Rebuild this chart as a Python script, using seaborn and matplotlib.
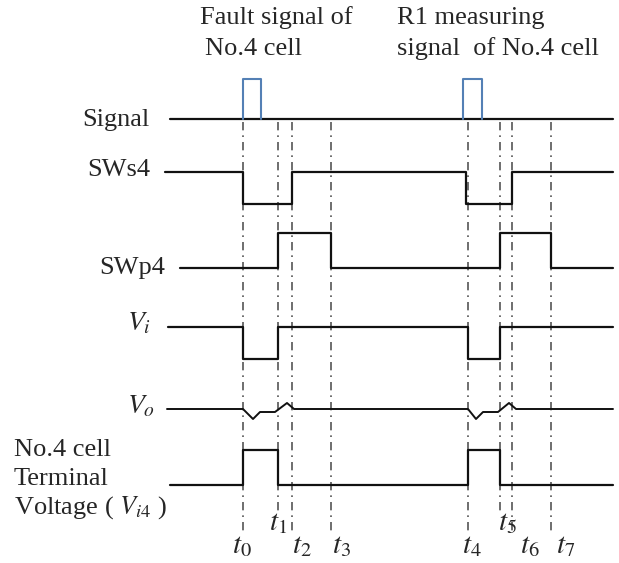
import matplotlib
matplotlib.use("Agg")
import matplotlib.pyplot as plt
import seaborn as sns
import numpy as np
import pandas as pd

sns.set_theme(style="white")
plt.rcParams['font.family'] = ['Liberation Serif', 'DejaVu Serif']
plt.rcParams['mathtext.fontset'] = 'stix'

# ---- data ----
event_names = ["t_0", "t_1", "t_2", "t_3", "t_4", "t_5", "t_6", "t_7"]
event_times = [243, 278, 292, 331, 468, 500, 512, 551]

signal_pulses = [(243, 261), (463, 482)]
sws4_low = [(243, 292), (466, 512)]
swp4_high = [(278, 331), (500, 551)]
vi_low = [(243, 278), (468, 500)]
vi4_high = [(243, 278), (468, 500)]

vo_x = [167, 243, 253, 260, 275, 287, 294, 468, 476, 483, 498, 509, 516, 613]
vo_y = [409, 409, 419, 412, 412, 403, 409, 409, 419, 412, 412, 403, 409, 409]

# layout (in canvas units)
lines_start = {"Signal": 170, "SWs4": 165, "SWp4": 180, "Vi": 168, "Vi4": 170}
line_end = 613
levels = {  # (base, active)
    "Signal": (119, 79),
    "SWs4": (172, 204),
    "SWp4": (268, 233),
    "Vi": (327, 359),
    "Vi4": (485, 450),
}


def step_trace(x0, x1, base, active, intervals):
    xs, ys = [x0], [base]
    for a, b in intervals:
        xs += [a, a, b, b]
        ys += [base, active, active, base]
    xs.append(x1)
    ys.append(base)
    return xs, ys


fig = plt.figure(figsize=(6.19, 5.63), dpi=100)
ax = fig.add_axes([0, 0, 1, 1])
ax.set_xlim(0, 619)
ax.set_ylim(563, 0)
ax.axis("off")

lw = 1.6
blk = "#111111"

# vertical dash-dot guides
for name, t in zip(event_names, event_times):
    bottom = 512 if name in ("t_1", "t_5") else 533
    sns.lineplot(x=[t, t], y=[122, bottom], ax=ax, color="#555555", lw=1.2,
                 linestyle=(0, (5, 3, 1, 3)), estimator=None, sort=False)

# signal line
sns.lineplot(x=[lines_start["Signal"], line_end], y=[levels["Signal"][0]] * 2, ax=ax,
             color=blk, lw=lw, estimator=None, sort=False)
for a, b in signal_pulses:
    base, act = levels["Signal"]
    sns.lineplot(x=[a, a, b, b], y=[base, act, act, base], ax=ax, color="#5480b5",
                 lw=1.5, estimator=None, sort=False)

for key, ints in [("SWs4", sws4_low), ("SWp4", swp4_high), ("Vi", vi_low), ("Vi4", vi4_high)]:
    base, act = levels[key]
    xs, ys = step_trace(lines_start[key], line_end, base, act, ints)
    sns.lineplot(x=xs, y=ys, ax=ax, color=blk, lw=lw, estimator=None, sort=False)

sns.lineplot(x=vo_x, y=vo_y, ax=ax, color=blk, lw=1.4, estimator=None, sort=False)

# labels
fs = 19
ax.text(150, 120, "Signal", fontsize=fs, ha="right", va="center")
ax.text(150, 170, "SWs4", fontsize=fs, ha="right", va="center")
ax.text(165, 268, "SWp4", fontsize=fs, ha="right", va="center")
ax.text(127, 324, "$V_i$", fontsize=fs + 1, ha="left", va="center")
ax.text(127, 407, "$V_o$", fontsize=fs + 1, ha="left", va="center")
ax.text(14, 450, "No.4 cell", fontsize=fs, ha="left", va="center")
ax.text(14, 479, "Terminal", fontsize=fs, ha="left", va="center")
ax.text(14, 508, "Voltage ( $V_{i4}$ )", fontsize=fs, ha="left", va="center")

ax.text(200, 18, "Fault signal of", fontsize=fs, ha="left", va="center")
ax.text(205, 49, "No.4 cell", fontsize=fs, ha="left", va="center")
ax.text(397, 18, "R1 measuring", fontsize=fs, ha="left", va="center")
ax.text(397, 49, "signal  of No.4 cell", fontsize=fs, ha="left", va="center")

# time labels
label_pos = {
    "t_0": (242, 546), "t_1": (278, 523), "t_2": (302, 546), "t_3": (341, 546),
    "t_4": (472, 546), "t_5": (507, 523), "t_6": (530, 546), "t_7": (566, 546),
}
for name in event_names:
    x, y = label_pos[name]
    ax.text(x, y, f"${name}$", fontsize=21, ha="center", va="center")

fig.savefig("out.png", dpi=100, facecolor="white")
